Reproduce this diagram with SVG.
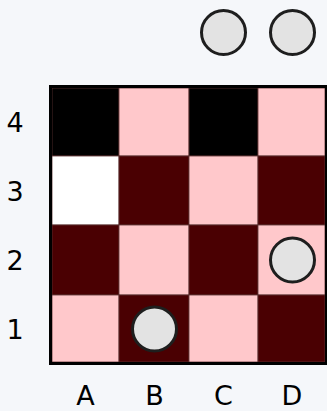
<svg xmlns="http://www.w3.org/2000/svg" width="327" height="411" viewBox="0 0 327 411">
<style>
.bg{fill:#f5f7fa}
.cell{stroke:#5a3030;stroke-width:0.8}
.k{fill:#000000}
.p{fill:#ffc8cb}
.r{fill:#4a0002}
.w{fill:#ffffff}
.frame{fill:none;stroke:#000;stroke-width:3}
.token{fill:#e3e3e3;stroke:#1e1e1e;stroke-width:3}
.lbl{font-family:"DejaVu Sans",sans-serif;font-size:27px;fill:#000;text-anchor:middle}
</style>
<rect class="bg" x="0" y="0" width="327" height="411"/>
<g id="board">
<rect class="cell k" x="52" y="88" width="67" height="68"/>
<rect class="cell p" x="119" y="88" width="70" height="68"/>
<rect class="cell k" x="189" y="88" width="69" height="68"/>
<rect class="cell p" x="258" y="88" width="67" height="68"/>
<rect class="cell w" x="52" y="156" width="67" height="69"/>
<rect class="cell r" x="119" y="156" width="70" height="69"/>
<rect class="cell p" x="189" y="156" width="69" height="69"/>
<rect class="cell r" x="258" y="156" width="67" height="69"/>
<rect class="cell r" x="52" y="225" width="67" height="70"/>
<rect class="cell p" x="119" y="225" width="70" height="70"/>
<rect class="cell r" x="189" y="225" width="69" height="70"/>
<rect class="cell p" x="258" y="225" width="67" height="70"/>
<rect class="cell p" x="52" y="295" width="67" height="67"/>
<rect class="cell r" x="119" y="295" width="70" height="67"/>
<rect class="cell p" x="189" y="295" width="69" height="67"/>
<rect class="cell r" x="258" y="295" width="67" height="67"/>
<rect class="frame" x="50.5" y="86.5" width="276" height="277"/>
</g>
<g id="tokens">
<circle id="token-off-1" class="token" cx="223.5" cy="32.5" r="22"/>
<circle id="token-off-2" class="token" cx="292.5" cy="32.5" r="22"/>
<circle id="token-D2" class="token" cx="292.5" cy="260" r="22"/>
<circle id="token-B1" class="token" cx="154.5" cy="329" r="22"/>
</g>
<g id="row-labels">
<text class="lbl" x="15" y="132">4</text>
<text class="lbl" x="15" y="201">3</text>
<text class="lbl" x="15" y="270">2</text>
<text class="lbl" x="15" y="339">1</text>
</g>
<g id="col-labels">
<text class="lbl" x="85.5" y="405">A</text>
<text class="lbl" x="154.5" y="405">B</text>
<text class="lbl" x="223.5" y="405">C</text>
<text class="lbl" x="292" y="405">D</text>
</g>
</svg>
